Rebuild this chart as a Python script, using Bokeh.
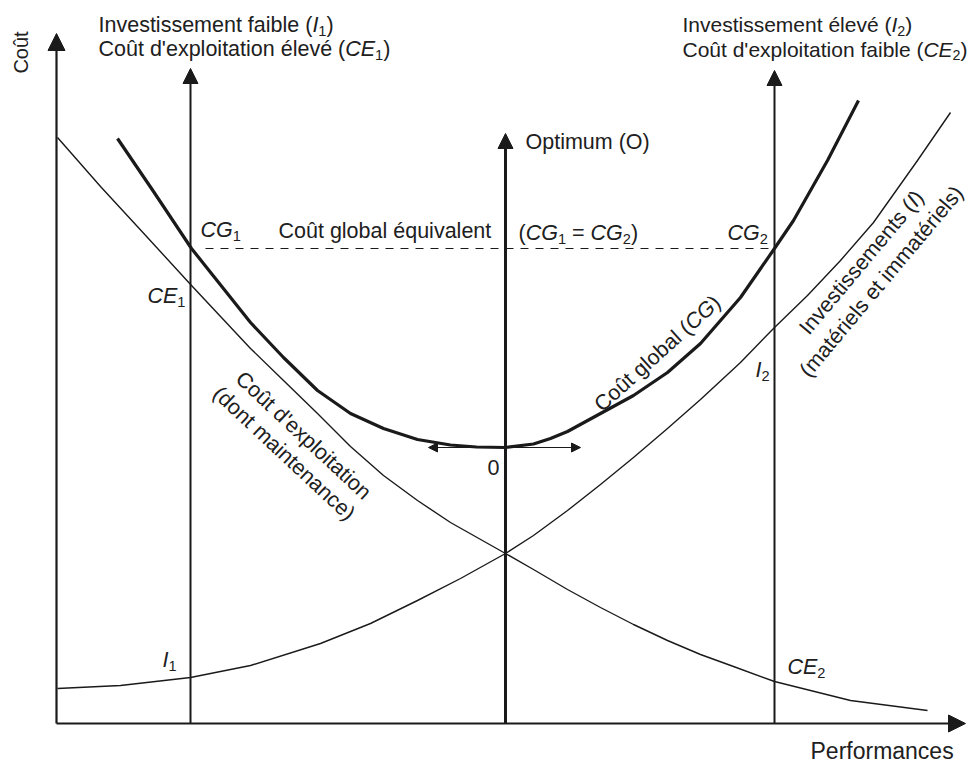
import math
from bokeh.plotting import figure
from bokeh.models import Range1d, Arrow, NormalHead
from bokeh.core.properties import value
from bokeh.embed import file_html
from bokeh.resources import INLINE

# ---------------- data (performance, cost) ----------------
perf_cg = [6.1, 9.7, 13.5, 19.4, 22.7, 26.1, 29.4, 32.7, 36.1, 39.4, 42.0, 44.9, 47.7,
           49.4, 51.1, 54.4, 57.7, 61.1, 64.4, 68.4, 71.8, 73.7, 77.1, 80.2]
cost_cg = [58.5, 53.2, 47.5, 40.1, 36.6, 33.3, 31.0, 29.5, 28.4, 27.85, 27.65, 27.6, 27.95,
           28.5, 29.2, 31.0, 32.8, 35.1, 38.0, 42.6, 47.5, 50.3, 56.3, 62.3]

perf_ce = [0.1, 4.4, 9.1, 13.5, 19.4, 22.7, 26.1, 29.4, 32.7, 36.1, 39.4, 44.9,
           47.7, 51.1, 54.4, 57.7, 61.1, 64.4, 67.7, 71.8, 79.4, 87.1]
cost_ce = [58.6, 53.7, 48.6, 43.8, 37.5, 34.3, 31.0, 27.7, 24.8, 22.3, 20.1, 17.0,
           15.4, 13.4, 11.6, 9.9, 8.3, 6.9, 5.7, 4.2, 2.3, 1.3]

perf_inv = [0.1, 6.4, 13.4, 19.4, 26.4, 31.4, 36.1, 40.4, 44.9, 47.7, 51.1, 54.4,
            57.7, 61.1, 64.4, 68.4, 71.8, 75.1, 78.4, 81.7, 86.1, 89.4]
cost_inv = [3.5, 3.8, 4.6, 5.8, 8.0, 10.0, 12.3, 14.5, 17.0, 18.8, 21.3, 23.9,
            26.6, 29.5, 32.4, 36.1, 39.6, 42.8, 46.3, 50.1, 56.3, 61.1]

perf_levels = [13.4, 44.9, 71.8]      # I1 (faible), Optimum O, I2 (élevé)
level_tops = [65.5, 59.0, 65.3]       # arrow tips of the vertical guides
cg_equal = 47.5                        # CG1 = CG2
cg_min = 27.6                          # minimum of global cost
axis_x_max = 90.9
axis_y_max = 69.0

# ---------------- styles ----------------
W, H = 973, 763
XR = (-5.6, 91.7)
YR = (-4.0, 72.3)
U = (XR[1] - XR[0]) / W               # data units per pixel
INK = "#1a1a1a"
TXT = "#202020"
FONT = "Liberation Sans"
FS = 21.5
SUB = 0.68

p = figure(width=W, height=H, x_range=Range1d(*XR), y_range=Range1d(*YR),
           output_backend="svg", toolbar_location=None, min_border=0,
           x_axis_location=None, y_axis_location=None)
p.grid.visible = False
p.outline_line_color = None
p.background_fill_color = "white"
p.border_fill_color = "white"


def arrow(x0, y0, x1, y1, lw, size):
    p.add_layout(Arrow(end=NormalHead(size=size, fill_color=INK, line_color=INK, line_width=1),
                       x_start=x0, y_start=y0, x_end=x1, y_end=y1,
                       line_width=lw, line_color=INK))


# axes
arrow(0, 0, 0, axis_y_max, 2.2, 17)
arrow(0, 0, axis_x_max, 0, 2.2, 17)
# vertical guides
arrow(perf_levels[0], 0, perf_levels[0], level_tops[0], 2.0, 15)
arrow(perf_levels[1], 0, perf_levels[1], level_tops[1], 3.0, 15)
arrow(perf_levels[2], 0, perf_levels[2], level_tops[2], 2.0, 15)

# dashed equal-cost line
p.line([perf_levels[0] + 1.5, perf_levels[2]], [cg_equal, cg_equal],
       line_color=INK, line_width=1.2, line_dash="8 7")

# curves
p.line(perf_ce, cost_ce, line_color=INK, line_width=1.4, line_join="round")
p.line(perf_inv, cost_inv, line_color=INK, line_width=1.4, line_join="round")
p.line(perf_cg, cost_cg, line_color=INK, line_width=3.2, line_join="round")

# small horizontal arrows at the optimum
arrow(perf_levels[1], cg_min, perf_levels[1] - 7.7, cg_min, 1.0, 9)
arrow(perf_levels[1], cg_min, perf_levels[1] + 7.5, cg_min, 1.0, 9)

# ---------------- text ----------------
CW = {' ': 278, '(': 333, ')': 333, "'": 191, '=': 584,
      'C': 722, 'E': 667, 'G': 778, 'I': 278, 'O': 778, 'P': 667,
      'a': 556, 'b': 556, 'c': 500, 'd': 556, 'e': 556, 'f': 278, 'g': 556,
      'i': 222, 'l': 222, 'm': 833, 'n': 556, 'o': 556, 'p': 556, 'q': 556,
      'r': 333, 's': 500, 't': 278, 'u': 556, 'v': 500, 'x': 500,
      'é': 556, 'û': 556}


def tw(t):
    return sum(CW.get(c, 556) for c in t) / 1000.0


def rich(x, y, segs, size=FS, angle=0.0, align="left"):
    """segs: (text, italic, subscript) tuples, or a number = gap in em."""
    ca, sa = math.cos(math.radians(angle)), math.sin(math.radians(angle))

    def width(s):
        if isinstance(s, (int, float)):
            return s * size
        t, it, sub = s
        return tw(t) * (size * SUB if sub else size)

    widths = [width(s) for s in segs]
    cur = -sum(widths) / 2 if align == "center" else 0.0
    for s, w in zip(segs, widths):
        if not isinstance(s, (int, float)):
            t, it, sub = s
            fs = size * SUB if sub else size
            drop = size * 0.3 if sub else 0.0
            ox = cur * ca + drop * sa
            oy = cur * sa - drop * ca
            p.text(x=[x + ox * U], y=[y + oy * U], text=[t], text_font=value(FONT),
                   text_font_size=value(f"{fs:.1f}px"),
                   text_font_style="italic" if it else "normal",
                   text_align="left", text_baseline="middle",
                   angle=math.radians(angle), text_color=TXT)
        cur += w


N, I_, S = False, True, True
SP = 0.278
# headers
rich(4.2, 69.9, [("Investissement faible (", N, N), ("I", I_, N), ("1", N, S), (")", N, N)])
rich(4.2, 67.45, [("Coût d'exploitation élevé (", N, N), ("CE", I_, N), ("1", N, S), (")", N, N)])
rich(62.6, 69.9, [("Investissement élevé (", N, N), ("I", I_, N), ("2", N, S), (")", N, N)], size=21)
rich(62.6, 67.45, [("Coût d'exploitation faible (", N, N), ("CE", I_, N), ("2", N, S), (")", N, N)], size=21)

# y-axis title
p.text(x=[-3.6], y=[67.1], text=["Coût"], text_font=value(FONT), text_font_size=value("20px"),
       text_align="center", text_baseline="middle", angle=math.pi / 2, text_color=TXT)
# x-axis title
rich(75.4, -2.7, [("Performances", N, N)], size=23)

# equal cost line labels
rich(14.4, 49.4, [("CG", I_, N), ("1", N, S)])
rich(22.2, 49.3, [("Coût global équivalent", N, N)])
rich(46.2, 49.1, [("(", N, N), ("CG", I_, N), ("1", N, S), SP, ("=", N, N), SP,
                  ("CG", I_, N), ("2", N, S), (")", N, N)])
rich(67.1, 49.1, [("CG", I_, N), ("2", N, S)])

# point labels
rich(9.1, 42.8, [("CE", I_, N), ("1", N, S)])
rich(10.6, 6.4, [("I", I_, N), ("1", N, S)])
rich(69.9, 35.4, [("I", I_, N), ("2", N, S)])
rich(73.1, 5.7, [("CE", I_, N), ("2", N, S)])
rich(43.1, 25.6, [("0", N, N)])
rich(46.9, 58.2, [("Optimum (O)", N, N)])

# curve labels (rotated)
rich(24.7, 28.8, [("Coût d'exploitation", N, N)], angle=-43, align="center")
rich(22.75, 27.0, [("(dont maintenance)", N, N)], angle=-43, align="center")
rich(60.1, 37.0, [("Coût global (", N, N), ("CG", I_, N), (")", N, N)], angle=42, align="center")
rich(80.5, 46.1, [("Investissements (", N, N), ("I", I_, N), (")", N, N)], angle=50, align="center")
rich(82.5, 44.2, [("(matériels et immatériels)", N, N)], angle=50, align="center")

open("out.html", "w").write(file_html(p, INLINE))
